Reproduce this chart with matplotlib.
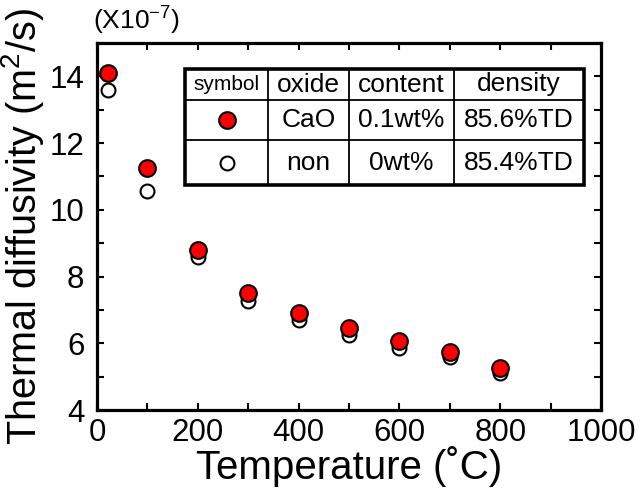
import matplotlib
matplotlib.use("Agg")
import matplotlib.pyplot as plt
from matplotlib.ticker import MultipleLocator

plt.rcParams['font.family'] = ['Liberation Sans', 'DejaVu Sans']
plt.rcParams['mathtext.fontset'] = 'custom'
plt.rcParams['mathtext.rm'] = 'Liberation Sans'
plt.rcParams['mathtext.it'] = 'Liberation Sans'

# Data (thermal diffusivity, x1e-7 m^2/s)
temps = [22, 100, 200, 300, 400, 500, 600, 700, 800]
cao = [14.1, 11.25, 8.8, 7.52, 6.9, 6.46, 6.06, 5.73, 5.27]
non = [13.6, 10.55, 8.6, 7.28, 6.7, 6.24, 5.85, 5.58, 5.12]

header = ["symbol", "oxide", "content", "density"]
rows = [["CaO", "0.1wt%", "85.6%TD"], ["non", "0wt%", "85.4%TD"]]

fig = plt.figure(figsize=(6.41, 4.93), dpi=100)
ax = fig.add_axes([97/641, 1-410/493, (601-97)/641, (410-43)/493])

ax.plot(temps, non, 'o', ms=10, mfc='white', mec='black', mew=1.5, zorder=3, clip_on=False)
ax.plot(temps, cao, 'o', ms=12, mfc='red', mec='black', mew=1.5, zorder=4, clip_on=False)

ax.set_xlim(0, 1000)
ax.set_ylim(4, 15)
ax.xaxis.set_major_locator(MultipleLocator(200))
ax.xaxis.set_minor_locator(MultipleLocator(100))
ax.yaxis.set_major_locator(MultipleLocator(2))
ax.yaxis.set_minor_locator(MultipleLocator(1))
ax.tick_params(which='both', direction='in', top=True, right=True, length=5, width=1.5)
ax.tick_params(axis='x', which='major', labelsize=22.5, pad=6)
ax.tick_params(axis='y', which='major', labelsize=22.5, pad=9)
for s in ax.spines.values():
    s.set_linewidth(2.3)

ax.set_xlabel("Temperature (˚C)", fontsize=29, labelpad=-2)
ax.set_ylabel("Thermal diffusivity (m$^2$/s)", fontsize=28.5, labelpad=0)
ax.yaxis.set_label_coords(-0.102, 0.5)
ax.text(-0.008, 1.015, "(X10$^{-7}$)", transform=ax.transAxes, fontsize=19,
        ha='left', va='bottom')

# Table (axes fraction coordinates)
def fx(px):
    return (px - 97) / 504
def fy(py):
    return (410 - py) / 367

xs = [185, 268, 349, 454, 584]
ys = [69, 100, 140, 185]
T = ax.transAxes
ax.add_patch(plt.Rectangle((fx(xs[0]), fy(ys[-1])), fx(xs[-1]) - fx(xs[0]),
                           fy(ys[0]) - fy(ys[-1]), transform=T, fill=True,
                           facecolor='white', edgecolor='black', lw=2.6, zorder=5,
                           clip_on=False))
for x in xs[1:-1]:
    ax.plot([fx(x), fx(x)], [fy(ys[0]), fy(ys[-1])], color='black', lw=1.3,
            transform=T, zorder=6, clip_on=False)
for y in ys[1:-1]:
    ax.plot([fx(xs[0]), fx(xs[-1])], [fy(y), fy(y)], color='black', lw=1.3,
            transform=T, zorder=6, clip_on=False)

def cx(i):
    return (fx(xs[i]) + fx(xs[i + 1])) / 2
def cy(j):
    return (fy(ys[j]) + fy(ys[j + 1])) / 2

hsizes = [15, 19, 19, 19]
for i, h in enumerate(header):
    ax.text(cx(i), cy(0), h, transform=T, ha='center', va='center',
            fontsize=hsizes[i], zorder=7)
for j, r in enumerate(rows):
    for i, v in enumerate(r):
        ax.text(cx(i + 1), cy(j + 1), v, transform=T, ha='center', va='center',
                fontsize=19, zorder=7)

ax.plot([cx(0)], [cy(1)], 'o', ms=12, mfc='red', mec='black', mew=1.5,
        transform=T, zorder=7, clip_on=False)
ax.plot([cx(0)], [cy(2)], 'o', ms=10, mfc='white', mec='black', mew=1.5,
        transform=T, zorder=7, clip_on=False)

fig.savefig("out.png", dpi=100)
